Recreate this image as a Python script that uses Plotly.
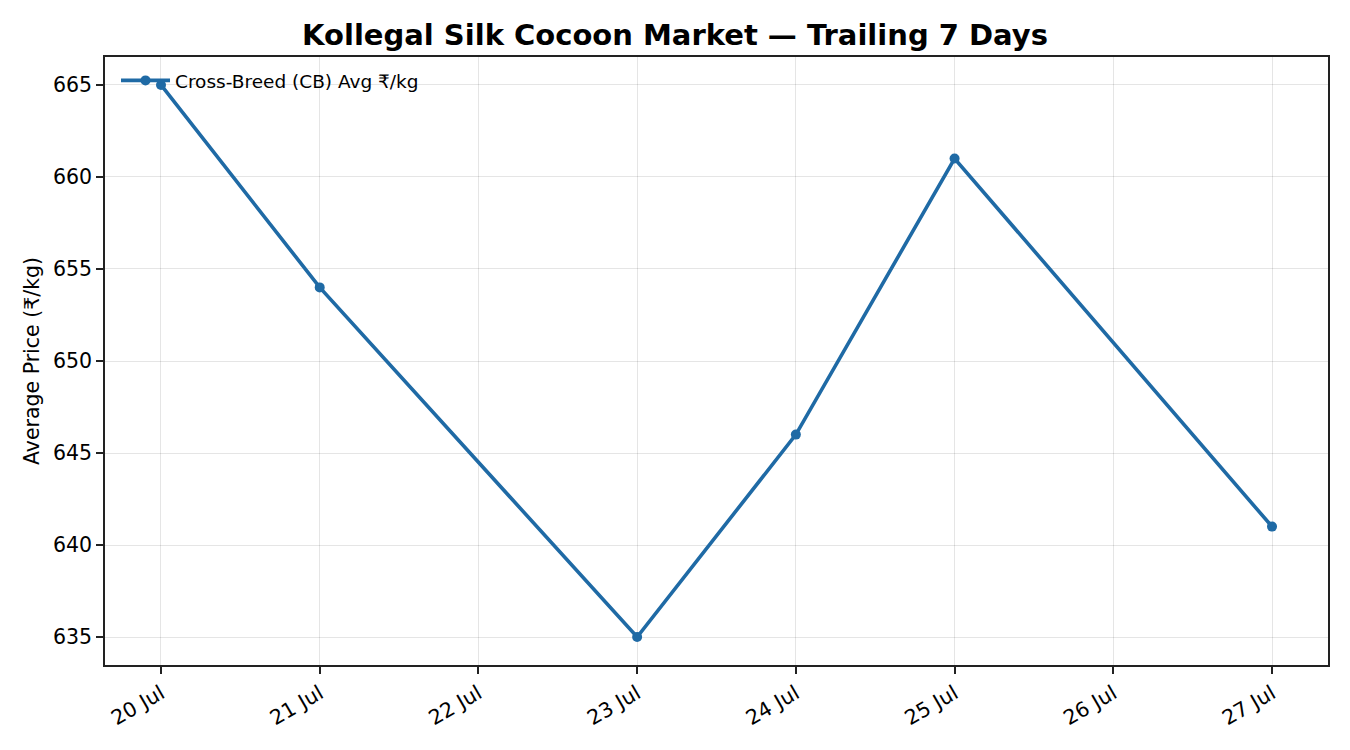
import plotly.graph_objects as go

dates = ["2024-07-20", "2024-07-21", "2024-07-23", "2024-07-24", "2024-07-25", "2024-07-27"]
prices = [665, 654, 635, 646, 661, 641]
tick_dates = ["2024-07-20", "2024-07-21", "2024-07-22", "2024-07-23", "2024-07-24", "2024-07-25", "2024-07-26", "2024-07-27"]
tick_labels = ["20 Jul", "21 Jul", "22 Jul", "23 Jul", "24 Jul", "25 Jul", "26 Jul", "27 Jul"]
y_ticks = [635, 640, 645, 650, 655, 660, 665]

color = "#1f6aa5"
font = "DejaVu Sans"

fig = go.Figure()
fig.add_trace(go.Scatter(
    x=dates, y=prices, mode="lines+markers",
    name="Cross-Breed (CB) Avg ₹/kg",
    line=dict(color=color, width=3.6),
    marker=dict(color=color, size=10),
))

fig.update_layout(
    width=1350, height=750,
    margin=dict(l=105, r=22, t=57, b=85),
    paper_bgcolor="white", plot_bgcolor="white",
    font=dict(family=font, size=20, color="black"),
    title=dict(text="<b>Kollegal Silk Cocoon Market — Trailing 7 Days</b>",
               x=0.5, xanchor="center", y=0.953, yanchor="middle",
               font=dict(family=font, size=29, color="black")),
    showlegend=True,
    legend=dict(x=0.009, y=0.992, xanchor="left", yanchor="top",
                itemwidth=49,
                bgcolor="rgba(255,255,255,0)", font=dict(size=18.5)),
)
fig.update_xaxes(
    type="date",
    range=["2024-07-19 15:32", "2024-07-27 08:28"],
    tickvals=tick_dates, ticktext=tick_labels, tickangle=-30,
    showgrid=True, gridcolor="rgba(0,0,0,0.1)", gridwidth=1.2,
    showline=True, linecolor="#222", linewidth=1.6, mirror=True,
    ticks="outside", ticklen=7, tickwidth=1.6, tickcolor="#222",
    tickfont=dict(size=20.5), zeroline=False,
)
fig.update_yaxes(
    range=[633.48, 666.52],
    tickvals=y_ticks,
    title=dict(text="Average Price (₹/kg)", font=dict(size=20.5), standoff=8),
    showgrid=True, gridcolor="rgba(0,0,0,0.1)", gridwidth=1.2,
    showline=True, linecolor="#222", linewidth=1.6, mirror=True,
    ticks="outside", ticklen=7, tickwidth=1.6, tickcolor="#222",
    tickfont=dict(size=20.5), zeroline=False,
)

fig.write_html("out.html")
